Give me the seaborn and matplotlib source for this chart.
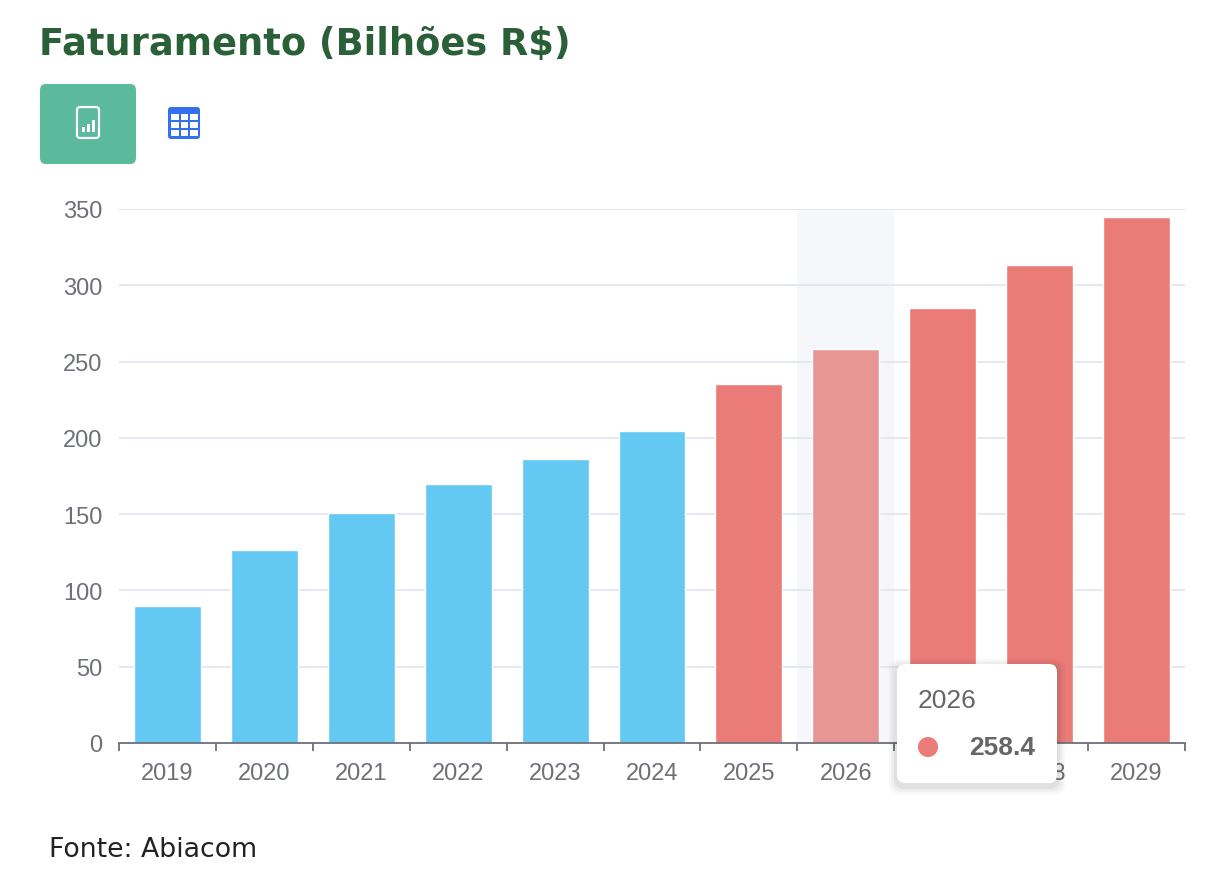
import numpy as np
import pandas as pd
import matplotlib.pyplot as plt
import seaborn as sns
from matplotlib.patches import FancyBboxPatch, Rectangle, Circle

# dados
years = ['2019', '2020', '2021', '2022', '2023', '2024', '2025', '2026', '2027', '2028', '2029']
values = [90.0, 126.5, 150.9, 169.8, 186.1, 204.7, 235.3, 258.4, 285.1, 313.3, 344.8]
colors = ['#63C8F2'] * 6 + ['#EB7B77', '#E79595', '#EB7B77', '#EB7B77', '#EB7B77']
hover_idx = 7
y_ticks = [0, 50, 100, 150, 200, 250, 300, 350]

title = 'Faturamento (Bilhões R$)'
source = 'Fonte: Abiacom'

sns.set_theme(style='white')
plt.rcParams['font.family'] = ['Liberation Sans', 'DejaVu Sans']

df = pd.DataFrame({'ano': years, 'valor': values})

fig = plt.figure(figsize=(12.24, 8.78), dpi=100)
ax = fig.add_axes([119 / 1224, 1 - 744 / 878, (1185 - 119) / 1224, (744 - 210) / 878])

sns.barplot(data=df, x='ano', y='valor', hue='ano', palette=colors,
            width=0.69, legend=False, saturation=1, ax=ax, zorder=2)

# faixa de destaque (hover)
ax.axvspan(hover_idx - 0.5, hover_idx + 0.5, color='#F5F7FB', zorder=0.3, lw=0)

ax.set_xlim(-0.5, len(years) - 0.5)
ax.set_ylim(0, 350)
ax.set_yticks(y_ticks)
ax.set_axisbelow(True)
ax.yaxis.grid(True, color='#E0E6F1', lw=1.3, zorder=0.5)
ax.xaxis.grid(False)
for s in ['top', 'right', 'left']:
    ax.spines[s].set_visible(False)
ax.spines['bottom'].set_color('#6E7079')
ax.spines['bottom'].set_linewidth(1.3)
ax.spines['bottom'].set_zorder(3)
ax.set_xlabel('')
ax.set_ylabel('')
ax.tick_params(axis='y', length=0, pad=12, labelsize=17, labelcolor='#6E7079')
ax.tick_params(axis='x', which='major', length=0, pad=14, labelsize=17, labelcolor='#6E7079')
ax.set_xticks(np.arange(-0.5, len(years)), minor=True)
ax.tick_params(axis='x', which='minor', bottom=True, length=6, width=1.3, color='#6E7079')
ax.patch.set_alpha(0)

# camada de sobreposição em pixels
ov = fig.add_axes([0, 0, 1, 1], zorder=10)
ov.set_xlim(0, 1224)
ov.set_ylim(878, 0)
ov.axis('off')
ov.patch.set_alpha(0)

ov.text(39, 44, title, fontsize=26.5, fontweight='bold', color='#2A6038',
        family=['DejaVu Sans'], va='center', ha='left')

# ícones
ov.add_patch(FancyBboxPatch((40, 85), 96, 80, boxstyle='round,pad=0,rounding_size=6',
                            fc='#5BB99C', ec='none'))
ov.add_patch(FancyBboxPatch((77, 108), 22, 31, boxstyle='round,pad=0,rounding_size=3',
                            fc='none', ec='white', lw=1.6))
for bx, bh in [(82, 5), (87, 8), (92, 12)]:
    ov.add_patch(Rectangle((bx, 133 - bh), 3.2, bh, fc='white', ec='none'))
ov.add_patch(FancyBboxPatch((168, 108), 32, 32, boxstyle='round,pad=0,rounding_size=3',
                            fc='#3370F0', ec='none'))
for gx in [171, 180.5, 190]:
    for gy in [115, 123, 131]:
        ov.add_patch(Rectangle((gx, gy), 7.5, 6, fc='white', ec='none'))

# tooltip
for k, a in enumerate([0.03, 0.04, 0.05]):
    d = 8 - 2.5 * k
    ov.add_patch(FancyBboxPatch((897 - d, 665 - d + 3), 160 + 2 * d, 119 + 2 * d,
                                boxstyle='round,pad=0,rounding_size=10',
                                fc='black', ec='none', alpha=a))
ov.add_patch(FancyBboxPatch((897, 665), 160, 119, boxstyle='round,pad=0,rounding_size=8',
                            fc='white', ec='none'))
ov.text(918, 701, years[hover_idx], fontsize=19, color='#666666', va='center', ha='left')
ov.add_patch(Circle((928, 748), 10, fc=colors[hover_idx - 1], ec='none'))
ov.text(1035, 748, f'{values[hover_idx]:.1f}', fontsize=19, fontweight='bold',
        color='#666666', va='center', ha='right')

ov.text(49, 850, source, fontsize=19.3, color='#222222',
        family=['DejaVu Sans'], va='center', ha='left')

fig.savefig('out.png', dpi=100, facecolor='white')
